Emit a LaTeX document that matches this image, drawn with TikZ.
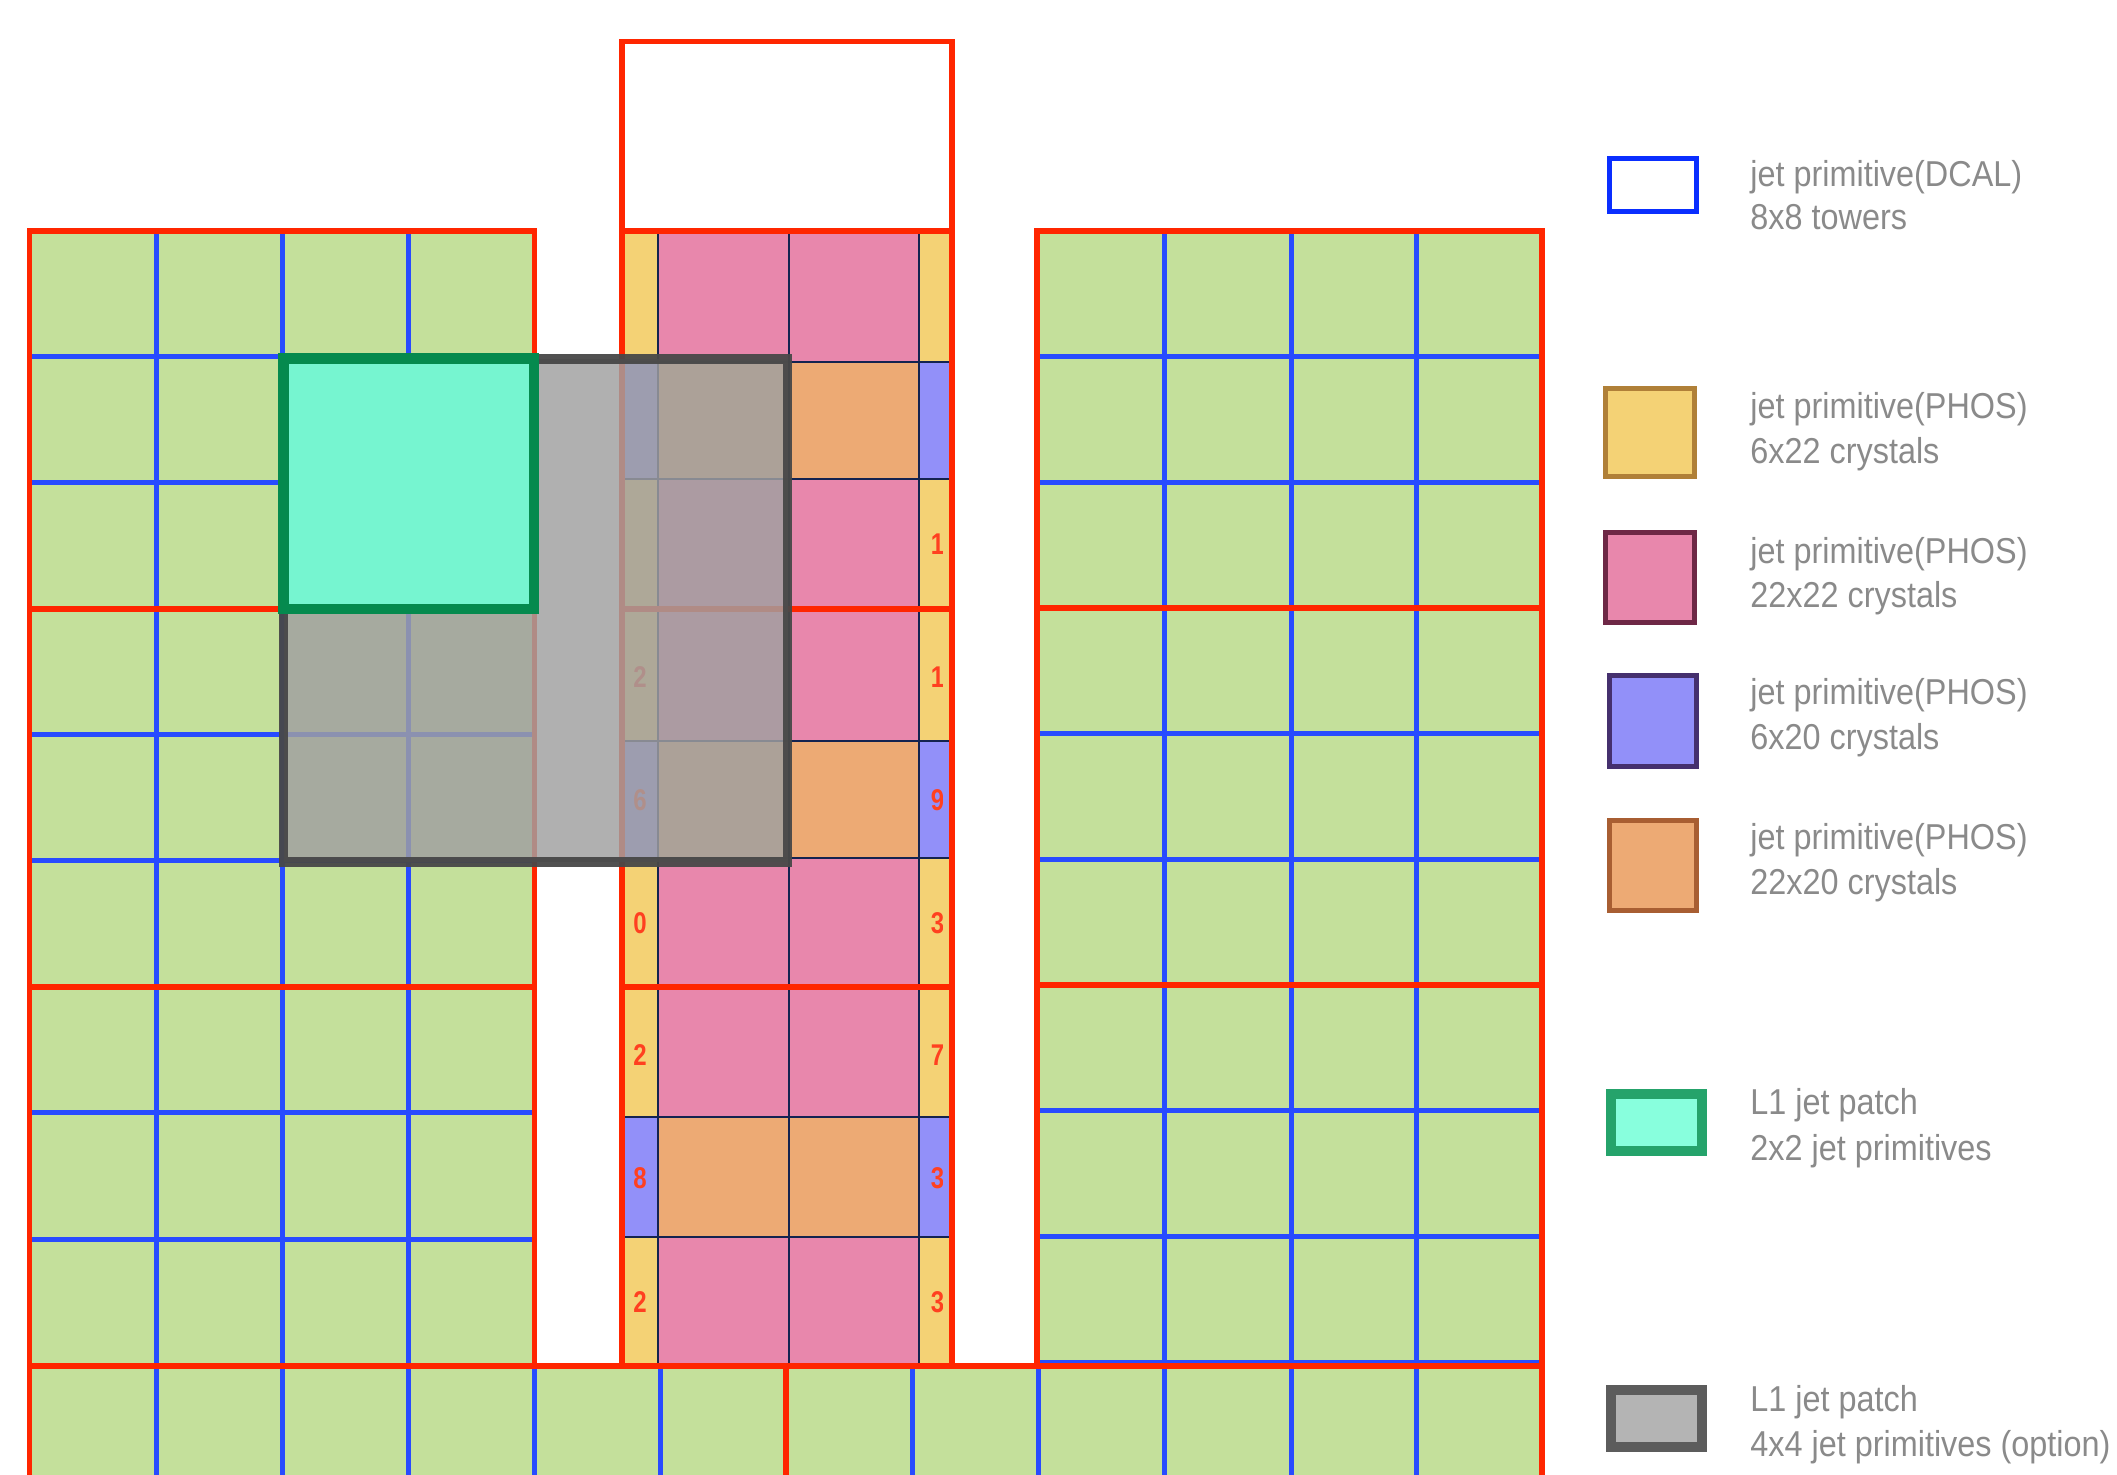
\documentclass[tikz,border=0pt]{standalone}
\usepackage{fontspec}
\setmainfont{Liberation Sans}
\newfontfamily\legfont[FakeStretch=0.9]{Liberation Sans}
\newfontfamily\digfont[FakeStretch=0.8]{Liberation Sans}
\definecolor{cellgreen}{RGB}{196,224,155}
\definecolor{twrblue}{RGB}{40,75,255}
\definecolor{smred}{RGB}{255,38,0}
\definecolor{navy}{RGB}{20,35,80}
\definecolor{phyel}{RGB}{244,210,117}
\definecolor{phpink}{RGB}{232,135,172}
\definecolor{phorange}{RGB}{237,170,116}
\definecolor{phpurple}{RGB}{146,144,249}
\definecolor{mint}{RGB}{118,245,208}
\definecolor{patchgreen}{RGB}{5,138,78}
\definecolor{patchgray}{RGB}{72,72,72}
\definecolor{grayfill}{RGB}{160,160,160}
\definecolor{legtext}{RGB}{138,138,138}
\definecolor{digred}{RGB}{255,64,32}
\definecolor{legblue}{RGB}{10,46,255}
\definecolor{legyelb}{RGB}{176,128,56}
\definecolor{legpinkb}{RGB}{110,40,70}
\definecolor{legpurpb}{RGB}{69,48,110}
\definecolor{legorb}{RGB}{168,94,50}
\definecolor{leggreenb}{RGB}{37,163,107}
\definecolor{legmint}{RGB}{136,255,221}
\definecolor{leggrayb}{RGB}{92,92,92}
\definecolor{leggrayf}{RGB}{180,180,180}
\tikzset{
  twr/.style={draw=twrblue, line width=2.5pt},
  smod/.style={draw=smred, line width=2.6pt},
  xtal/.style={draw=navy, line width=1pt},
  digit/.style={font=\digfont\bfseries\fontsize{15}{16}\selectfont, text=digred, inner sep=0pt, anchor=center},
  legtxt/.style={font=\legfont\fontsize{18}{22}\selectfont, text=legtext, inner sep=0pt, anchor=base west},
  legbox/.style={line width=2.5pt},
}
\begin{document}
\begin{tikzpicture}[x=0.5pt,y=-0.5pt]
\useasboundingbox (0,0) rectangle (2117,1475);

% ---- DCAL fills ----
\fill[cellgreen] (29.7,231) rectangle (534.6,1366);
\fill[cellgreen] (1037,231) rectangle (1542,1366);
\fill[cellgreen] (29.7,1366) rectangle (1542,1475);

% ---- PHOS fills ----
\foreach \a/\b/\c/\d in {231/362/479/609, 609/741/858/987, 987/1117/1237/1366}{
  \fill[phyel] (622,\a) rectangle (658,\b);
  \fill[phyel] (919,\a) rectangle (952,\b);
  \fill[phpink] (658,\a) rectangle (919,\b);
  \fill[phpurple] (622,\b) rectangle (658,\c);
  \fill[phpurple] (919,\b) rectangle (952,\c);
  \fill[phorange] (658,\b) rectangle (919,\c);
  \fill[phyel] (622,\c) rectangle (658,\d);
  \fill[phyel] (919,\c) rectangle (952,\d);
  \fill[phpink] (658,\c) rectangle (919,\d);
  \draw[xtal] (622,\b) -- (952,\b);
  \draw[xtal] (622,\c) -- (952,\c);
}
\foreach \x in {658,788.5,919}{\draw[xtal] (\x,231) -- (\x,1366);}

% ---- tower lines (blue) ----
\foreach \x in {156,282,408}{\draw[twr] (\x,231) -- (\x,1366);}
\foreach \y in {357,483,735,861,1113,1239}{\draw[twr] (29.7,\y) -- (534.6,\y);}
\foreach \x in {1164,1291,1416}{\draw[twr] (\x,231) -- (\x,1366);}
\foreach \y in {356.7,482.3,733.7,859.3,1110.7,1236.3,1362.5}{\draw[twr] (1037,\y) -- (1542,\y);}
\foreach \x in {156,282,408,534.6,660,912,1038,1164,1291,1416}{\draw[twr] (\x,1366) -- (\x,1475);}

% ---- supermodule lines (red) ----
\draw[smod] (29.7,231) rectangle (534.6,1366);
\draw[smod] (29.7,609) -- (534.6,609);
\draw[smod] (29.7,987) -- (534.6,987);
\draw[smod] (1037,231) rectangle (1542,1366);
\draw[smod] (1037,608) -- (1542,608);
\draw[smod] (1037,985) -- (1542,985);
\draw[smod] (622,231) rectangle (952,1366);
\draw[smod] (622,609) -- (952,609);
\draw[smod] (622,987) -- (952,987);
\draw[smod] (622,41.7) rectangle (952,231);
\draw[smod] (29.7,1480) -- (29.7,1366) -- (1542,1366) -- (1542,1480);
\draw[smod] (786,1366) -- (786,1480);

% ---- digits ----
\foreach \y/\t [count=\i] in {676.7/2,800/6,923/0,1055/2,1178/8,1302/2}{
  \node[digit] (dl\i) at (640,\y) {\t};
}
\begin{scope}
  \clip (900,231) rectangle (942.5,1366);
  \foreach \y/\t [count=\i] in {544/1,676.7/1,800/9,923/3,1055/7,1178/3,1302/3}{
    \node[digit] (dr\i) at (937.5,\y) {\t};
  }
\end{scope}

% ---- L1 jet patch 4x4 (option) ----
\fill[grayfill, fill opacity=0.83] (283.5,358.7) rectangle (787.5,862.3);
\draw[patchgray, draw opacity=0.95, line width=4.9pt] (283.5,358.7) rectangle (787.5,862.3);

% ---- L1 jet patch 2x2 ----
\fill[mint] (283.5,358.7) rectangle (534,608.8);
\draw[patchgreen, line width=5.25pt] (283.5,358.7) rectangle (534,608.8);

% ---- legend ----
\draw[legbox, legblue] (1609.1,158.4) rectangle (1696.4,211.9);
\node[legtxt] (t1a) at (1750,186.7) {jet primitive(DCAL)};
\node[legtxt] (t1b) at (1750,230) {8x8 towers};

\draw[legbox, draw=legyelb, fill=phyel] (1605.8,388.2) rectangle (1694.3,476.8);
\node[legtxt] (t2a) at (1750,418.3) {jet primitive(PHOS)};
\node[legtxt] (t2b) at (1750,463.3) {6x22 crystals};

\draw[legbox, draw=legpinkb, fill=phpink] (1605.8,532.5) rectangle (1694.3,622.5);
\node[legtxt] (t3a) at (1750,563.3) {jet primitive(PHOS)};
\node[legtxt] (t3b) at (1750,607.3) {22x22 crystals};

\draw[legbox, draw=legpurpb, fill=phpurple] (1609.2,675.8) rectangle (1696.7,766.5);
\node[legtxt] (t4a) at (1750,705) {jet primitive(PHOS)};
\node[legtxt] (t4b) at (1750,750) {6x20 crystals};

\draw[legbox, draw=legorb, fill=phorange] (1609.2,820.2) rectangle (1696.7,910.8);
\node[legtxt] (t5a) at (1750,849.3) {jet primitive(PHOS)};
\node[legtxt] (t5b) at (1750,894.3) {22x20 crystals};

\draw[line width=5pt, draw=leggreenb, fill=legmint] (1611,1094.3) rectangle (1702.4,1151);
\node[legtxt] (t6a) at (1750,1115) {L1 jet patch};
\node[legtxt] (t6b) at (1750,1160) {2x2 jet primitives};

\draw[line width=5pt, draw=leggrayb, fill=leggrayf] (1611,1390) rectangle (1702.4,1446.7);
\node[legtxt] (t7a) at (1750,1411.7) {L1 jet patch};
\node[legtxt] (t7b) at (1750,1456.7) {4x4 jet primitives (option)};
\end{tikzpicture}
\end{document}
